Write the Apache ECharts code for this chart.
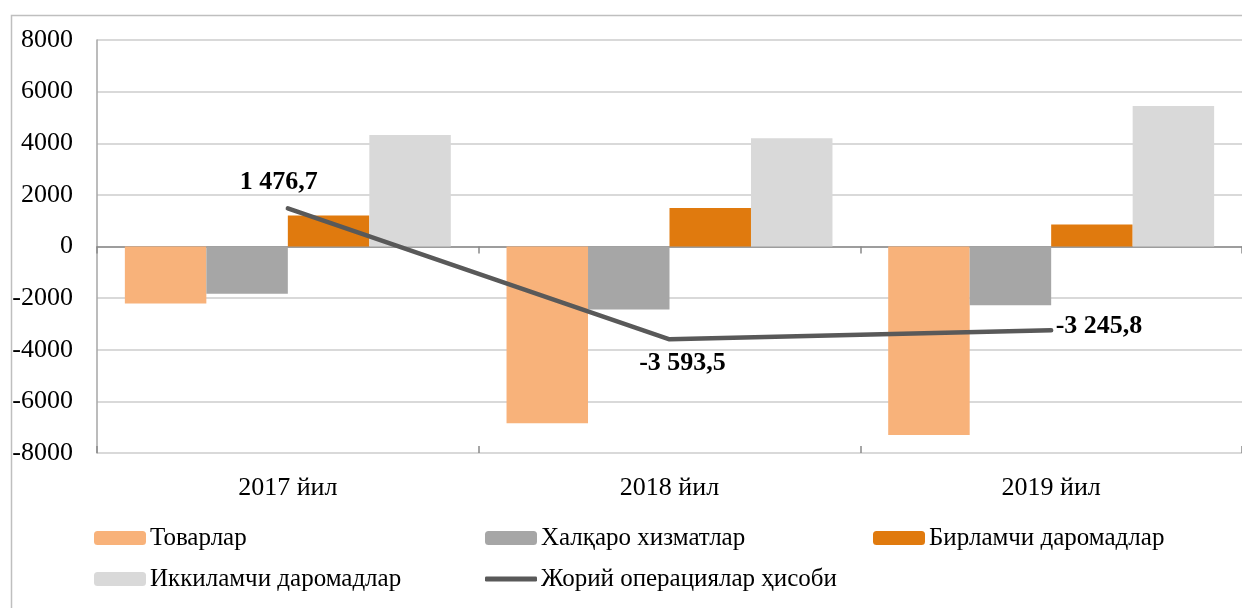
<!DOCTYPE html>
<html>
<head>
<meta charset="utf-8">
<script src="https://cdn.jsdelivr.net/npm/echarts@6/dist/echarts.min.js"></script>
<style>
html,body{margin:0;padding:0;background:#fff;}
#chart{width:1242px;height:608px;}
</style>
</head>
<body>
<div id="chart"></div>
<script>
const categories = ['2017 йил', '2018 йил', '2019 йил'];
const seriesNames = ['Товарлар', 'Халқаро хизматлар', 'Бирламчи даромадлар', 'Иккиламчи даромадлар', 'Жорий операциялар ҳисоби'];
const goods = [-2210, -6850, -7300];
const services = [-1830, -2440, -2280];
const primaryIncome = [1200, 1490, 850];
const secondaryIncome = [4320, 4190, 5440];
const currentAccount = [1476.7, -3593.5, -3245.8];
const yTicks = { min: -8000, max: 8000, interval: 2000 };

const FONT = "'Liberation Serif', 'Times New Roman', serif";
const colors = ['#F8B27A', '#A6A6A6', '#E07A0E', '#D9D9D9', '#595959'];

function fmt(v) {
  const neg = v < 0;
  const s = Math.abs(v).toFixed(1).split('.');
  const intPart = s[0].replace(/\B(?=(\d{3})+(?!\d))/g, ' ');
  return (neg ? '-' : '') + intPart + ',' + s[1];
}

const chart = echarts.init(document.getElementById('chart'), null, {renderer: 'canvas'});

const legendPos = [
  {left: 94, top: 524},
  {left: 485, top: 524},
  {left: 873, top: 524},
  {left: 94, top: 565},
  {left: 485, top: 565}
];

const legends = seriesNames.map((n, i) => {
  const isLine = i === 4;
  return {
    data: [isLine ? {name: n, icon: 'roundRect', itemStyle: {color: colors[4]}} : n],
    left: legendPos[i].left,
    top: legendPos[i].top,
    padding: 0,
    itemWidth: 52,
    itemHeight: isLine ? 5 : 14,
    itemGap: 0,
    selectedMode: false,
    textStyle: {fontFamily: FONT, fontSize: 25, color: '#000', lineHeight: 28, padding: [0, 0, 0, -1]}
  };
});

const labelCfg = [
  {position: 'top', distance: 5, offset: [-9, -8]},
  {position: 'bottom', distance: 5, offset: [13, 6]},
  {position: 'right', distance: 4, offset: [0, -4]}
];

const lineData = currentAccount.map((v, i) => ({
  value: v,
  label: {
    show: true,
    position: labelCfg[i].position,
    distance: labelCfg[i].distance,
    offset: labelCfg[i].offset,
    formatter: p => fmt(p.value),
    fontFamily: FONT, fontSize: 26, fontWeight: 'bold', color: '#000'
  }
}));

function barSeries(name, data, color) {
  return {
    name: name, type: 'bar', data: data, xAxisIndex: 0,
    barGap: '0%', barCategoryGap: '14.6%',
    itemStyle: {color: color},
    emphasis: {disabled: true},
    animation: false
  };
}

const option = {
  animation: false,
  backgroundColor: '#fff',
  graphic: [{
    type: 'rect', left: 9, top: 13, z: -10,
    shape: {width: 2000, height: 1000},
    style: {fill: 'none', stroke: '#BFBFBF', lineWidth: 1.5}
  }],
  legend: legends,
  grid: {left: 97, top: 40, bottom: 155, right: -7, containLabel: false},
  xAxis: [
    {
      type: 'category', data: categories, position: 'bottom',
      axisLine: {show: false, onZero: false}, axisTick: {show: false},
      axisLabel: {fontFamily: FONT, fontSize: 26, color: '#000', margin: 22},
      splitLine: {show: false}
    },
    {
      type: 'category', data: categories, position: 'bottom',
      axisLine: {show: true, onZero: true, lineStyle: {color: '#898989', width: 1.5}},
      axisTick: {show: true, inside: false, length: 7, lineStyle: {color: '#898989', width: 1.5}},
      axisLabel: {show: false}, splitLine: {show: false}
    },
    {
      type: 'category', data: categories, position: 'bottom',
      axisLine: {show: false, onZero: true},
      axisTick: {show: true, inside: true, length: 7, lineStyle: {color: '#898989', width: 1.5}},
      axisLabel: {show: false}, splitLine: {show: false}
    }
  ],
  yAxis: {
    type: 'value', min: yTicks.min, max: yTicks.max, interval: yTicks.interval,
    axisLine: {show: true, lineStyle: {color: '#A6A6A6', width: 1.5}},
    axisTick: {show: false},
    axisLabel: {fontFamily: FONT, fontSize: 26, color: '#000', margin: 24, formatter: v => String(v)},
    splitLine: {lineStyle: {color: '#D9D9D9', width: 2}}
  },
  series: [
    barSeries(seriesNames[0], goods, colors[0]),
    barSeries(seriesNames[1], services, colors[1]),
    barSeries(seriesNames[2], primaryIncome, colors[2]),
    barSeries(seriesNames[3], secondaryIncome, colors[3]),
    {
      name: seriesNames[4], type: 'line', data: lineData, xAxisIndex: 0,
      symbol: 'circle', symbolSize: 1, showSymbol: true,
      lineStyle: {color: colors[4], width: 4.5, cap: 'round'},
      itemStyle: {color: colors[4]},
      emphasis: {disabled: true},
      z: 5
    }
  ]
};
chart.setOption(option);
</script>
</body>
</html>
